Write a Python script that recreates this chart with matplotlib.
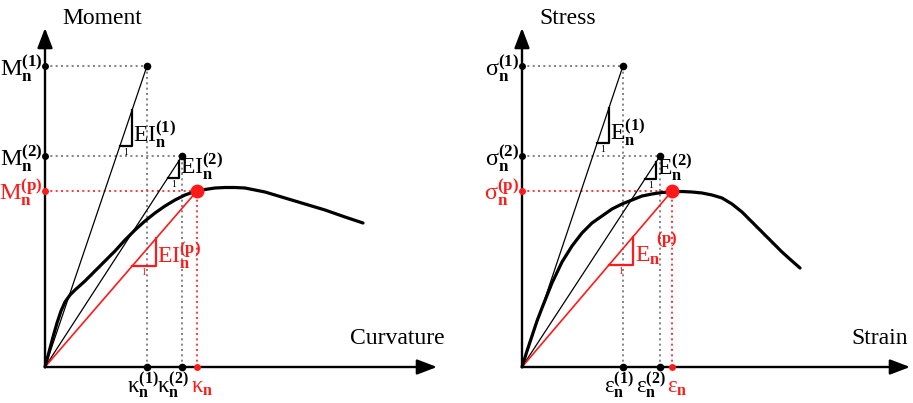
import matplotlib.pyplot as plt

plt.rcParams['font.family'] = 'Liberation Serif'
plt.rcParams['mathtext.fontset'] = 'custom'
plt.rcParams['mathtext.rm'] = 'Liberation Serif'
plt.rcParams['mathtext.bf'] = 'Liberation Serif:bold'
plt.rcParams['mathtext.it'] = 'Liberation Serif:italic'

# Moment-curvature panel: secant points (1), (2) and the peak (p)
kappa_pts = [1.02, 1.37, 1.52]
moment_pts = [3.01, 2.11, 1.76]
curve_kappa = [0.0, 0.04, 0.08, 0.12, 0.16, 0.20, 0.25, 0.30, 0.40, 0.50, 0.60,
               0.70, 0.80, 0.90, 1.00, 1.10, 1.20, 1.30, 1.40, 1.50, 1.60, 1.70,
               1.80, 1.90, 2.00, 2.20, 2.40, 2.60, 2.80, 3.00, 3.18]
curve_moment = [0.0, 0.15, 0.30, 0.44, 0.56, 0.65, 0.72, 0.77, 0.86, 0.96, 1.06,
                1.16, 1.27, 1.37, 1.46, 1.54, 1.61, 1.67, 1.72, 1.755, 1.775, 1.79,
                1.795, 1.795, 1.79, 1.75, 1.69, 1.63, 1.57, 1.50, 1.44]

# Stress-strain panel
strain_pts = [1.01, 1.38, 1.50]
stress_pts = [3.01, 2.11, 1.76]
curve_strain = [0.0, 0.05, 0.10, 0.15, 0.20, 0.30, 0.40, 0.50, 0.60, 0.70, 0.80,
                0.90, 1.00, 1.10, 1.20, 1.30, 1.40, 1.50, 1.60, 1.70, 1.80, 1.90,
                2.00, 2.10, 2.20, 2.30, 2.40, 2.50, 2.60, 2.70, 2.78]
curve_stress = [0.0, 0.16, 0.31, 0.46, 0.59, 0.84, 1.05, 1.21, 1.34, 1.44, 1.51,
                1.58, 1.63, 1.67, 1.71, 1.73, 1.745, 1.75, 1.755, 1.75, 1.74, 1.72,
                1.69, 1.63, 1.55, 1.45, 1.35, 1.25, 1.15, 1.06, 0.99]

RED = '#ff1a1a'
GRAY = '#707070'


def draw_panel(ax, xs, ys, cx, cy, xlab, ylab, xsym, ysym, ssym, xend, xlab_right,
               sep_sup=False):
    ax.axis('off')
    arrow = dict(arrowstyle='-|>,head_length=1.1,head_width=0.42', lw=1.7,
                 color='black', mutation_scale=11, shrinkA=0, shrinkB=0)
    ax.annotate('', xy=(xend, 0), xytext=(0, 0), arrowprops=arrow)
    ax.annotate('', xy=(0, 3.39), xytext=(0, 0), arrowprops=arrow)

    colors = ['black', 'black', RED]
    dotc = [GRAY, GRAY, RED]
    sups = ['(1)', '(2)', '(p)']
    tri = [(0.75, 0.87), (1.23, 1.34), (0.87, 1.11)]
    xlab_off = [-0.04, -0.09, 0.05]

    # secant lines
    for i in range(3):
        lw = 1.2 if i == 2 else 0.9
        ax.plot([0, xs[i]], [0, ys[i]], color=colors[i], lw=lw, zorder=3)

    # the curve
    ax.plot(cx, cy, color='black', lw=2.3, zorder=4, solid_capstyle='round',
            solid_joinstyle='round')

    for i in range(3):
        c = colors[i]
        # dotted guides
        ax.plot([0, xs[i]], [ys[i], ys[i]], color=dotc[i], lw=1.2,
                linestyle=(0, (1.2, 2.0)), zorder=2)
        ax.plot([xs[i], xs[i]], [0, ys[i]], color=dotc[i], lw=1.2,
                linestyle=(0, (1.2, 2.0)), zorder=2)
        # markers
        ms = 10 if i == 2 else 5.5
        ax.plot(xs[i], ys[i], 'o', color=c, ms=ms, mec='none', zorder=6)
        ax.plot(0, ys[i], 'o', color=c, ms=5, mec='none', zorder=6)
        ax.plot(xs[i], 0, 'o', color=c, ms=5.5 if i < 2 else 5, mec='none', zorder=6)

        # y tick label
        ax.text(-0.025, ys[i] - 0.10,
                r'$\mathrm{%s}_{\mathbf{n}}^{\mathbf{%s}}$' % (ysym, sups[i]),
                color=c, fontsize=17.5, ha='right', va='baseline')
        # x tick label
        if i < 2:
            s = r'$\mathrm{%s}_{\mathbf{n}}^{\mathbf{%s}}$' % (xsym, sups[i])
        else:
            s = r'$\mathrm{%s}_{\mathbf{n}}$' % xsym
        ax.text(xs[i] + xlab_off[i], -0.26, s, color=c, fontsize=16.5,
                ha='center', va='baseline')

        # slope triangle
        m = ys[i] / xs[i]
        x0, x1 = tri[i]
        ax.plot([x0, x1, x1], [m * x0, m * x0, m * x1], color=c, lw=1.6, zorder=5)
        ax.text((x0 + x1) / 2, m * x0 - 0.02, '1', color=c, fontsize=7,
                ha='center', va='top')
        if sep_sup and i == 2:
            ax.text(x1 + 0.02, m * x0 + 0.03, r'$\mathrm{%s}_{\mathbf{n}}$' % ssym,
                    color=c, fontsize=17, ha='left', va='baseline')
            ax.text(x1 + 0.23, m * x0 + 0.22, r'$\mathbf{(p)}$', color=c,
                    fontsize=12, ha='left', va='baseline')
        else:
            ax.text(x1 + 0.01, m * x0 + 0.03,
                    r'$\mathrm{%s}_{\mathbf{n}}^{\mathbf{%s}}$' % (ssym, sups[i]),
                    color=c, fontsize=17, ha='left', va='baseline')

    ax.text(0.17, 3.49, ylab, fontsize=17, ha='left', va='center')
    ax.text(xlab_right, 0.29, xlab, fontsize=17, ha='right', va='center')


fig = plt.figure(figsize=(9.13, 4.03), dpi=100)
ax1 = fig.add_axes([0, 0, 0.5, 1])
ax1.set_xlim(-0.45, 4.115)
ax1.set_ylim(-0.36, 3.67)
ax2 = fig.add_axes([0.5, 0, 0.5, 1])
ax2.set_xlim(-0.655, 3.91)
ax2.set_ylim(-0.36, 3.67)

draw_panel(ax1, kappa_pts, moment_pts, curve_kappa, curve_moment,
           'Curvature', 'Moment', 'κ', 'M', 'EI', 3.92, 4.00)
draw_panel(ax2, strain_pts, stress_pts, curve_strain, curve_stress,
           'Strain', 'Stress', 'ε', 'σ', 'E', 3.88, 3.86, sep_sup=True)

fig.savefig('out.png', dpi=100)
